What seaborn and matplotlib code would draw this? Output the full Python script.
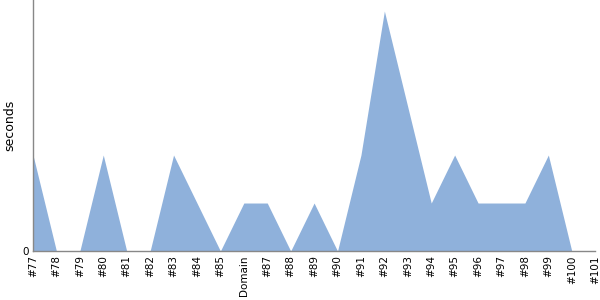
import matplotlib
matplotlib.use("Agg")
import matplotlib.pyplot as plt
import seaborn as sns
import numpy as np
import pandas as pd

categories = ["#77", "#78", "#79", "#80", "#81", "#82", "#83", "#84", "#85", "Domain",
              "#87", "#88", "#89", "#90", "#91", "#92", "#93", "#94", "#95", "#96",
              "#97", "#98", "#99", "#100", "#101"]
seconds = [4, 0, 0, 4, 0, 0, 4, 2, 0, 2,
           2, 0, 2, 0, 4, 10, 6, 2, 4, 2,
           2, 2, 4, 0, 0]

sns.set_style("white")
plt.rcParams['font.family'] = ['DejaVu Sans']

df = pd.DataFrame({"run": categories, "seconds": seconds})
df["pos"] = np.arange(len(df))

fig = plt.figure(figsize=(6, 3), dpi=100)
ax = fig.add_axes([0.055, 0.1633, 0.937, 0.8367])

color = "#8fb1db"
ax.fill_between(df["pos"], df["seconds"], 0, color=color, linewidth=0, zorder=1)

ax.set_xlim(0, len(df) - 1)
ax.set_ylim(0, 10.46)
ax.set_xticks(df["pos"])
ax.set_xticklabels(df["run"], rotation=90, fontsize=7.5, color="black")
ax.set_yticks([0])
ax.set_yticklabels(["0"], fontsize=7.5, color="black")
ax.tick_params(axis="both", length=0, pad=3)
ax.set_xlabel("")
ax.set_ylabel("seconds", fontsize=9, color="black")

for s in ["top", "right"]:
    ax.spines[s].set_visible(False)
for s in ["left", "bottom"]:
    ax.spines[s].set_color("#888888")
    ax.spines[s].set_linewidth(1)
    ax.spines[s].set_zorder(3)

fig.savefig("out.png", dpi=100)
